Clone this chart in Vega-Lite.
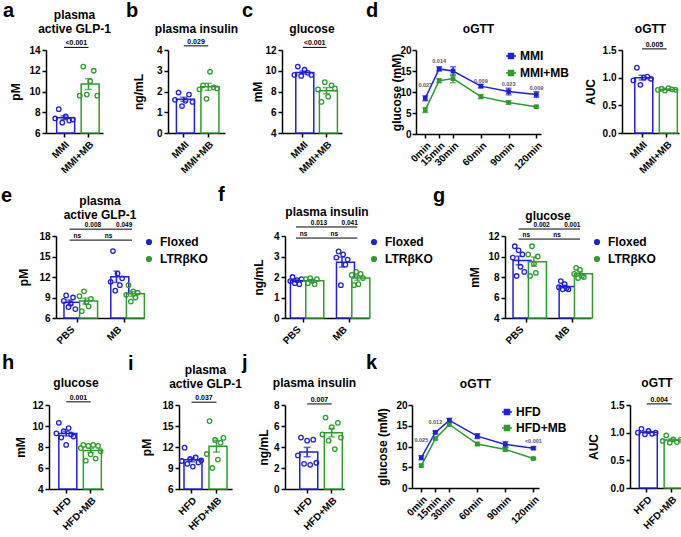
{
"$schema":"https://vega.github.io/schema/vega-lite/v6.json",
"padding":0,
"config":{
 "font":"Liberation Sans",
 "view":{"stroke":null},
 "axis":{"grid":false,"labelFont":"Liberation Sans","labelFontSize":10,"labelFontWeight":"bold","labelColor":"#000","titleFont":"Liberation Sans","titleFontSize":12,"titleFontWeight":"bold","titleColor":"#000","domainColor":"#000","domainWidth":1.5,"tickColor":"#000","tickWidth":1.5,"tickSize":4,"labelPadding":2,"labelFlush":false,"labelOverlap":false,"tickCount":20},
 "legend":{"labelFont":"Liberation Sans","labelColor":"#000"},
 "title":{"font":"Liberation Sans","color":"#000","fontWeight":"bold"}
},
"datasets":{
 "a":[{"g":"MMI","m":1,"v":7.4},{"g":"MMI","m":2,"v":8.3},{"g":"MMI","m":3,"v":7.0},{"g":"MMI","m":4,"v":7.6},{"g":"MMI","m":5,"v":7.2},{"g":"MMI","m":6,"v":7.3},{"g":"MMI+MB","m":1,"v":9.6},{"g":"MMI+MB","m":2,"v":12.4},{"g":"MMI+MB","m":3,"v":9.7},{"g":"MMI+MB","m":4,"v":11.0},{"g":"MMI+MB","m":5,"v":12.0},{"g":"MMI+MB","m":6,"v":9.6}],
 "b":[{"g":"MMI","m":1,"v":1.6},{"g":"MMI","m":2,"v":1.95},{"g":"MMI","m":3,"v":1.3},{"g":"MMI","m":4,"v":1.55},{"g":"MMI","m":5,"v":1.85},{"g":"MMI","m":6,"v":1.5},{"g":"MMI+MB","m":1,"v":2.1},{"g":"MMI+MB","m":2,"v":2.3},{"g":"MMI+MB","m":3,"v":1.65},{"g":"MMI+MB","m":4,"v":2.95},{"g":"MMI+MB","m":5,"v":2.2},{"g":"MMI+MB","m":6,"v":2.15}],
 "c":[{"g":"MMI","m":1,"v":9.6},{"g":"MMI","m":2,"v":10.4},{"g":"MMI","m":3,"v":9.5},{"g":"MMI","m":4,"v":10.1},{"g":"MMI","m":5,"v":9.8},{"g":"MMI","m":6,"v":9.6},{"g":"MMI+MB","m":1,"v":8.2},{"g":"MMI+MB","m":2,"v":7.0},{"g":"MMI+MB","m":3,"v":8.9},{"g":"MMI+MB","m":4,"v":7.5},{"g":"MMI+MB","m":5,"v":8.6},{"g":"MMI+MB","m":6,"v":8.3}],
 "dauc":[{"g":"MMI","m":1,"v":0.95},{"g":"MMI","m":2,"v":1.18},{"g":"MMI","m":3,"v":0.87},{"g":"MMI","m":4,"v":1.0},{"g":"MMI","m":5,"v":1.02},{"g":"MMI","m":6,"v":0.98},{"g":"MMI+MB","m":1,"v":0.78},{"g":"MMI+MB","m":2,"v":0.8},{"g":"MMI+MB","m":3,"v":0.77},{"g":"MMI+MB","m":4,"v":0.81},{"g":"MMI+MB","m":5,"v":0.79},{"g":"MMI+MB","m":6,"v":0.78}],
 "dl":[{"grp":"MMI","t":0,"mean":8.5,"sem":0.6},{"grp":"MMI","t":15,"mean":15.5,"sem":0.5},{"grp":"MMI","t":30,"mean":15.0,"sem":1.0},{"grp":"MMI","t":60,"mean":11.4,"sem":0.4},{"grp":"MMI","t":90,"mean":10.1,"sem":0.8},{"grp":"MMI","t":120,"mean":9.4,"sem":0.7},{"grp":"MMI+MB","t":0,"mean":5.7,"sem":0.6},{"grp":"MMI+MB","t":15,"mean":12.7,"sem":0.5},{"grp":"MMI+MB","t":30,"mean":13.2,"sem":1.0},{"grp":"MMI+MB","t":60,"mean":8.9,"sem":0.5},{"grp":"MMI+MB","t":90,"mean":7.5,"sem":0.4},{"grp":"MMI+MB","t":120,"mean":6.5,"sem":0.2}],
 "e":[{"c":"PBS|Floxed","k":"Floxed","m":1,"v":8.5},{"c":"PBS|Floxed","k":"Floxed","m":2,"v":9.3},{"c":"PBS|Floxed","k":"Floxed","m":3,"v":7.6},{"c":"PBS|Floxed","k":"Floxed","m":4,"v":8.1},{"c":"PBS|Floxed","k":"Floxed","m":5,"v":9.0},{"c":"PBS|Floxed","k":"Floxed","m":6,"v":7.3},
  {"c":"PBS|LTRβKO","k":"LTRβKO","m":1,"v":9.2},{"c":"PBS|LTRβKO","k":"LTRβKO","m":2,"v":7.0},{"c":"PBS|LTRβKO","k":"LTRβKO","m":3,"v":9.9},{"c":"PBS|LTRβKO","k":"LTRβKO","m":4,"v":8.3},{"c":"PBS|LTRβKO","k":"LTRβKO","m":5,"v":7.7},{"c":"PBS|LTRβKO","k":"LTRβKO","m":6,"v":8.8},
  {"c":"MB|Floxed","k":"Floxed","m":1,"v":11.3},{"c":"MB|Floxed","k":"Floxed","m":2,"v":15.8},{"c":"MB|Floxed","k":"Floxed","m":3,"v":10.0},{"c":"MB|Floxed","k":"Floxed","m":4,"v":12.5},{"c":"MB|Floxed","k":"Floxed","m":5,"v":10.8},{"c":"MB|Floxed","k":"Floxed","m":6,"v":11.8},
  {"c":"MB|LTRβKO","k":"LTRβKO","m":1,"v":9.4},{"c":"MB|LTRβKO","k":"LTRβKO","m":2,"v":10.8},{"c":"MB|LTRβKO","k":"LTRβKO","m":3,"v":8.4},{"c":"MB|LTRβKO","k":"LTRβKO","m":4,"v":9.9},{"c":"MB|LTRβKO","k":"LTRβKO","m":5,"v":9.0},{"c":"MB|LTRβKO","k":"LTRβKO","m":6,"v":9.7}],
 "f":[{"c":"PBS|Floxed","k":"Floxed","m":1,"v":1.8},{"c":"PBS|Floxed","k":"Floxed","m":2,"v":2.0},{"c":"PBS|Floxed","k":"Floxed","m":3,"v":1.7},{"c":"PBS|Floxed","k":"Floxed","m":4,"v":1.85},{"c":"PBS|Floxed","k":"Floxed","m":5,"v":1.65},{"c":"PBS|Floxed","k":"Floxed","m":6,"v":1.9},
  {"c":"PBS|LTRβKO","k":"LTRβKO","m":1,"v":1.9},{"c":"PBS|LTRβKO","k":"LTRβKO","m":2,"v":1.7},{"c":"PBS|LTRβKO","k":"LTRβKO","m":3,"v":1.95},{"c":"PBS|LTRβKO","k":"LTRβKO","m":4,"v":1.8},{"c":"PBS|LTRβKO","k":"LTRβKO","m":5,"v":1.65},{"c":"PBS|LTRβKO","k":"LTRβKO","m":6,"v":1.9},
  {"c":"MB|Floxed","k":"Floxed","m":1,"v":2.95},{"c":"MB|Floxed","k":"Floxed","m":2,"v":3.25},{"c":"MB|Floxed","k":"Floxed","m":3,"v":1.6},{"c":"MB|Floxed","k":"Floxed","m":4,"v":3.1},{"c":"MB|Floxed","k":"Floxed","m":5,"v":2.6},{"c":"MB|Floxed","k":"Floxed","m":6,"v":2.85},
  {"c":"MB|LTRβKO","k":"LTRβKO","m":1,"v":2.1},{"c":"MB|LTRβKO","k":"LTRβKO","m":2,"v":1.6},{"c":"MB|LTRβKO","k":"LTRβKO","m":3,"v":2.25},{"c":"MB|LTRβKO","k":"LTRβKO","m":4,"v":1.65},{"c":"MB|LTRβKO","k":"LTRβKO","m":5,"v":2.15},{"c":"MB|LTRβKO","k":"LTRβKO","m":6,"v":1.95}],
 "g":[{"c":"PBS|Floxed","k":"Floxed","m":1,"v":9.9},{"c":"PBS|Floxed","k":"Floxed","m":2,"v":11.0},{"c":"PBS|Floxed","k":"Floxed","m":3,"v":8.1},{"c":"PBS|Floxed","k":"Floxed","m":4,"v":10.6},{"c":"PBS|Floxed","k":"Floxed","m":5,"v":9.0},{"c":"PBS|Floxed","k":"Floxed","m":6,"v":10.2},{"c":"PBS|Floxed","k":"Floxed","m":7,"v":8.5},
  {"c":"PBS|LTRβKO","k":"LTRβKO","m":1,"v":10.2},{"c":"PBS|LTRβKO","k":"LTRβKO","m":2,"v":8.1},{"c":"PBS|LTRβKO","k":"LTRβKO","m":3,"v":11.0},{"c":"PBS|LTRβKO","k":"LTRβKO","m":4,"v":9.3},{"c":"PBS|LTRβKO","k":"LTRβKO","m":5,"v":8.4},{"c":"PBS|LTRβKO","k":"LTRβKO","m":6,"v":10.0},
  {"c":"MB|Floxed","k":"Floxed","m":1,"v":7.0},{"c":"MB|Floxed","k":"Floxed","m":2,"v":7.6},{"c":"MB|Floxed","k":"Floxed","m":3,"v":6.8},{"c":"MB|Floxed","k":"Floxed","m":4,"v":7.3},{"c":"MB|Floxed","k":"Floxed","m":5,"v":6.9},{"c":"MB|Floxed","k":"Floxed","m":6,"v":6.8},
  {"c":"MB|LTRβKO","k":"LTRβKO","m":1,"v":8.3},{"c":"MB|LTRβKO","k":"LTRβKO","m":2,"v":8.9},{"c":"MB|LTRβKO","k":"LTRβKO","m":3,"v":7.9},{"c":"MB|LTRβKO","k":"LTRβKO","m":4,"v":8.7},{"c":"MB|LTRβKO","k":"LTRβKO","m":5,"v":8.1},{"c":"MB|LTRβKO","k":"LTRβKO","m":6,"v":8.0}],
 "h":[{"g":"HFD","m":1,"v":9.3},{"g":"HFD","m":2,"v":10.3},{"g":"HFD","m":3,"v":8.9},{"g":"HFD","m":4,"v":9.5},{"g":"HFD","m":5,"v":8.2},{"g":"HFD","m":6,"v":9.8},{"g":"HFD","m":7,"v":9.2},{"g":"HFD","m":8,"v":9.0},{"g":"HFD+MB","m":1,"v":7.9},{"g":"HFD+MB","m":2,"v":8.2},{"g":"HFD+MB","m":3,"v":6.7},{"g":"HFD+MB","m":4,"v":8.1},{"g":"HFD+MB","m":5,"v":7.3},{"g":"HFD+MB","m":6,"v":8.2},{"g":"HFD+MB","m":7,"v":6.9},{"g":"HFD+MB","m":8,"v":8.1},{"g":"HFD+MB","m":9,"v":7.6}],
 "i":[{"g":"HFD","m":1,"v":10.0},{"g":"HFD","m":2,"v":11.9},{"g":"HFD","m":3,"v":9.6},{"g":"HFD","m":4,"v":10.3},{"g":"HFD","m":5,"v":9.2},{"g":"HFD","m":6,"v":10.5},{"g":"HFD","m":7,"v":9.8},{"g":"HFD","m":8,"v":10.1},{"g":"HFD+MB","m":1,"v":11.0},{"g":"HFD+MB","m":2,"v":15.7},{"g":"HFD+MB","m":3,"v":9.0},{"g":"HFD+MB","m":4,"v":13.0},{"g":"HFD+MB","m":5,"v":10.2},{"g":"HFD+MB","m":6,"v":12.6},{"g":"HFD+MB","m":7,"v":13.3}],
 "j":[{"g":"HFD","m":1,"v":3.2},{"g":"HFD","m":2,"v":4.9},{"g":"HFD","m":3,"v":2.4},{"g":"HFD","m":4,"v":4.6},{"g":"HFD","m":5,"v":2.3},{"g":"HFD","m":6,"v":4.7},{"g":"HFD","m":7,"v":2.5},{"g":"HFD+MB","m":1,"v":5.2},{"g":"HFD+MB","m":2,"v":6.8},{"g":"HFD+MB","m":3,"v":4.6},{"g":"HFD+MB","m":4,"v":5.9},{"g":"HFD+MB","m":5,"v":3.8},{"g":"HFD+MB","m":6,"v":6.3},{"g":"HFD+MB","m":7,"v":4.9}],
 "kl":[{"grp":"HFD","t":0,"mean":7.3,"sem":0.5},{"grp":"HFD","t":15,"mean":13.4,"sem":0.3},{"grp":"HFD","t":30,"mean":16.3,"sem":0.5},{"grp":"HFD","t":60,"mean":12.5,"sem":0.6},{"grp":"HFD","t":90,"mean":10.5,"sem":0.7},{"grp":"HFD","t":120,"mean":9.6,"sem":0.3},{"grp":"HFD+MB","t":0,"mean":5.4,"sem":0.3},{"grp":"HFD+MB","t":15,"mean":11.9,"sem":0.3},{"grp":"HFD+MB","t":30,"mean":15.3,"sem":0.4},{"grp":"HFD+MB","t":60,"mean":10.6,"sem":0.4},{"grp":"HFD+MB","t":90,"mean":9.3,"sem":0.5},{"grp":"HFD+MB","t":120,"mean":7.1,"sem":0.2}],
 "kauc":[{"g":"HFD","m":1,"v":1.0},{"g":"HFD","m":2,"v":1.07},{"g":"HFD","m":3,"v":0.97},{"g":"HFD","m":4,"v":1.03},{"g":"HFD","m":5,"v":0.98},{"g":"HFD","m":6,"v":1.0},{"g":"HFD+MB","m":1,"v":0.85},{"g":"HFD+MB","m":2,"v":0.95},{"g":"HFD+MB","m":3,"v":0.82},{"g":"HFD+MB","m":4,"v":0.88},{"g":"HFD+MB","m":5,"v":0.83},{"g":"HFD+MB","m":6,"v":0.87}],
 "none":[]
},
"resolve":{"scale":{"color":"independent","stroke":"independent","xOffset":"independent"}},
"spacing":7,
"vconcat":[
{"resolve":{"scale":{"color":"independent","stroke":"independent","xOffset":"independent"}},
 "spacing":10,
 "vconcat":[
 {"resolve":{"scale":{"color":"independent","stroke":"independent","xOffset":"independent"}},"spacing":2,
  "hconcat":[
  {"width":1,"height":1,"data":{"name":"none"},"mark":"point"},
  {"resolve":{"scale":{"color":"independent","stroke":"independent","xOffset":"independent"}},"spacing":24,
   "hconcat":[
   {"resolve":{"scale":{"color":"independent","stroke":"independent","xOffset":"independent"}},"spacing":3,
    "hconcat":[
    {"resolve":{"scale":{"color":"independent","stroke":"independent","xOffset":"independent"}},"spacing":15,
     "hconcat":[
     {"title":{"text":"a","anchor":"start","frame":"group","fontSize":20,"baseline":"alphabetic","offset":-28,"dx":-43},
      "hconcat":[
       {"width":57,"height":83,
        "title":{"text":["plasma","active GLP-1"],"frame":"group","anchor":"middle","offset":-9,"fontSize":12,"lineHeight":14,"baseline":"bottom"},
        "data":{"name":"a"},
        "layer":[
         {"mark":{"type":"bar","fill":"white","strokeWidth":1.5,"width":{"band":0.6}},
          "encoding":{"x":{"field":"g","type":"nominal","title":null,"scale":{"domain":["MMI","MMI+MB"],"paddingInner":0,"paddingOuter":0.163,"align":0.72},"axis":{"labelAngle":-45,"labelOverlap":false}},
           "y":{"aggregate":"mean","field":"v","type":"quantitative","stack":null,"scale":{"domain":[6,14],"nice":false},"axis":{"title":"pM","values":[6,8,10,12,14],"format":"d","tickCount":20,"labelOverlap":false,"titleX":-24,"titleY":41.5}},
           "stroke":{"field":"g","type":"nominal","scale":{"domain":["MMI","MMI+MB"],"range":["#1f1fe0","#2c9c2c"]},"legend":null}}},
         {"mark":{"type":"point","shape":"circle","filled":false,"size":20,"strokeWidth":1.3,"opacity":1},
          "encoding":{"x":{"field":"g","type":"nominal","title":null},"xOffset":{"field":"m","type":"nominal","scale":{"paddingInner":0,"paddingOuter":1.4}},"y":{"field":"v","type":"quantitative","title":"pM"},"stroke":{"field":"g","type":"nominal","legend":null}}},
         {"mark":{"type":"errorbar","extent":"stderr","thickness":1.5,"ticks":{"size":7}},
          "encoding":{"x":{"field":"g","type":"nominal","title":null},"y":{"field":"v","type":"quantitative","title":"pM"},"color":{"field":"g","type":"nominal","scale":{"domain":["MMI","MMI+MB"],"range":["#1f1fe0","#2c9c2c"]},"legend":null}}},
         {"data":{"values":[{"g":"MMI","v":14.25},{"g":"MMI+MB","v":14.25}]},"mark":{"type":"line","color":"#000","strokeWidth":1},
          "encoding":{"x":{"field":"g","type":"nominal","title":null},"y":{"field":"v","type":"quantitative","title":"pM"}}},
         {"data":{"values":[{"g":"MMI","v":14.25,"t":"<0.001"}]},"mark":{"type":"text","baseline":"bottom","dy":-1,"fontSize":7,"fontWeight":"bold"},
          "encoding":{"x":{"field":"g","type":"nominal","title":null,"bandPosition":1},"y":{"field":"v","type":"quantitative","title":"pM"},"text":{"field":"t"}}}
        ]}
      ]},
     {"title":{"text":"b","anchor":"start","frame":"group","fontSize":20,"baseline":"alphabetic","offset":-28,"dx":-42},
      "hconcat":[
       {"width":57,"height":83,
        "title":{"text":["","plasma insulin"],"frame":"group","anchor":"middle","offset":-10,"fontSize":12,"lineHeight":14,"baseline":"bottom"},
        "data":{"name":"b"},
        "layer":[
         {"mark":{"type":"bar","fill":"white","strokeWidth":1.5,"width":{"band":0.6}},
          "encoding":{"x":{"field":"g","type":"nominal","title":null,"scale":{"domain":["MMI","MMI+MB"],"paddingInner":0,"paddingOuter":0.163,"align":0.44},"axis":{"labelAngle":-45,"labelOverlap":false}},
           "y":{"aggregate":"mean","field":"v","type":"quantitative","stack":null,"scale":{"domain":[0,4],"nice":false},"axis":{"title":"ng/mL","values":[0,1,2,3,4],"format":"d","tickCount":20,"labelOverlap":false,"titleX":-23,"titleY":41.5}},
           "stroke":{"field":"g","type":"nominal","scale":{"domain":["MMI","MMI+MB"],"range":["#1f1fe0","#2c9c2c"]},"legend":null}}},
         {"mark":{"type":"point","shape":"circle","filled":false,"size":20,"strokeWidth":1.3,"opacity":1},
          "encoding":{"x":{"field":"g","type":"nominal","title":null},"xOffset":{"field":"m","type":"nominal","scale":{"paddingInner":0,"paddingOuter":1.4}},"y":{"field":"v","type":"quantitative","title":"ng/mL"},"stroke":{"field":"g","type":"nominal","legend":null}}},
         {"mark":{"type":"errorbar","extent":"stderr","thickness":1.5,"ticks":{"size":7}},
          "encoding":{"x":{"field":"g","type":"nominal","title":null},"y":{"field":"v","type":"quantitative","title":"ng/mL"},"color":{"field":"g","type":"nominal","scale":{"domain":["MMI","MMI+MB"],"range":["#1f1fe0","#2c9c2c"]},"legend":null}}},
         {"data":{"values":[{"g":"MMI","v":4.2},{"g":"MMI+MB","v":4.2}]},"mark":{"type":"line","color":"#000","strokeWidth":1},
          "encoding":{"x":{"field":"g","type":"nominal","title":null},"y":{"field":"v","type":"quantitative","title":"ng/mL"}}},
         {"data":{"values":[{"g":"MMI","v":4.2,"t":"0.029"}]},"mark":{"type":"text","baseline":"bottom","dy":-1,"fontSize":7,"fontWeight":"bold"},
          "encoding":{"x":{"field":"g","type":"nominal","title":null,"bandPosition":1},"y":{"field":"v","type":"quantitative","title":"ng/mL"},"text":{"field":"t"}}}
        ]}
      ]}
    ]},
    {"title":{"text":"c","anchor":"start","frame":"group","fontSize":20,"baseline":"alphabetic","offset":-28,"dx":-40},
     "hconcat":[
      {"width":60,"height":83,
       "title":{"text":["","glucose"],"frame":"group","anchor":"middle","offset":-9,"fontSize":12,"lineHeight":14,"baseline":"bottom"},
       "data":{"name":"c"},
       "layer":[
        {"mark":{"type":"bar","fill":"white","strokeWidth":1.5,"width":{"band":0.6}},
         "encoding":{"x":{"field":"g","type":"nominal","title":null,"scale":{"domain":["MMI","MMI+MB"],"paddingInner":0,"paddingOuter":0.27,"align":0.71},"axis":{"labelAngle":-45,"labelOverlap":false}},
          "y":{"aggregate":"mean","field":"v","type":"quantitative","stack":null,"scale":{"domain":[4,12],"nice":false},"axis":{"title":"mM","values":[4,6,8,10,12],"format":"d","tickCount":20,"labelOverlap":false,"titleX":-18,"titleY":41.5}},
          "stroke":{"field":"g","type":"nominal","scale":{"domain":["MMI","MMI+MB"],"range":["#1f1fe0","#2c9c2c"]},"legend":null}}},
        {"mark":{"type":"point","shape":"circle","filled":false,"size":20,"strokeWidth":1.3,"opacity":1},
         "encoding":{"x":{"field":"g","type":"nominal","title":null},"xOffset":{"field":"m","type":"nominal","scale":{"paddingInner":0,"paddingOuter":1.4}},"y":{"field":"v","type":"quantitative","title":"mM"},"stroke":{"field":"g","type":"nominal","legend":null}}},
        {"mark":{"type":"errorbar","extent":"stderr","thickness":1.5,"ticks":{"size":7}},
         "encoding":{"x":{"field":"g","type":"nominal","title":null},"y":{"field":"v","type":"quantitative","title":"mM"},"color":{"field":"g","type":"nominal","scale":{"domain":["MMI","MMI+MB"],"range":["#1f1fe0","#2c9c2c"]},"legend":null}}},
        {"data":{"values":[{"g":"MMI","v":12.25},{"g":"MMI+MB","v":12.25}]},"mark":{"type":"line","color":"#000","strokeWidth":1},
         "encoding":{"x":{"field":"g","type":"nominal","title":null},"y":{"field":"v","type":"quantitative","title":"mM"}}},
        {"data":{"values":[{"g":"MMI","v":12.25,"t":"<0.001"}]},"mark":{"type":"text","baseline":"bottom","dy":-1,"fontSize":7,"fontWeight":"bold"},
         "encoding":{"x":{"field":"g","type":"nominal","title":null,"bandPosition":1},"y":{"field":"v","type":"quantitative","title":"mM"},"text":{"field":"t"}}}
       ]}
     ]}
   ]},
   {"title":{"text":"d","anchor":"start","frame":"group","fontSize":20,"baseline":"alphabetic","offset":-28,"dx":-50},
    "resolve":{"scale":{"color":"independent","stroke":"independent","xOffset":"independent"}},
    "spacing":15,
    "hconcat":[
     {"width":125,"height":84,
      "title":{"text":["","oGTT"],"frame":"group","anchor":"middle","offset":-3,"fontSize":12,"lineHeight":14,"baseline":"bottom"},
      "data":{"name":"dl"},
      "layer":[
       {"mark":{"type":"point","shape":"square","filled":true,"size":22,"opacity":1},
        "encoding":{"x":{"field":"t","type":"quantitative","title":null,"scale":{"domain":[-10,125],"nice":false,"zero":false},"axis":{"values":[0,15,30,60,90,120],"tickCount":20,"labelExpr":"datum.value + 'min'","labelAngle":-45,"labelOverlap":false}},
         "y":{"field":"mean","type":"quantitative","scale":{"domain":[0,20],"nice":false},"axis":{"title":"glucose (mM)","values":[0,5,10,15,20],"format":"d","tickCount":20,"labelOverlap":false,"labelPadding":1,"titleX":-13,"titleY":42}},
         "color":{"field":"grp","type":"nominal","scale":{"domain":["MMI","MMI+MB"],"range":["#1f1fe0","#2c9c2c"]},"legend":{"title":null,"orient":"none","legendX":89,"legendY":0,"padding":0,"symbolType":"M-1,0L1,0M-0.5,-0.5L0.5,-0.5L0.5,0.5L-0.5,0.5Z","symbolSize":100,"symbolStrokeWidth":1.5,"labelFontSize":12,"labelFontWeight":"bold","rowPadding":5,"labelOffset":3}}}},
       {"mark":{"type":"line","strokeWidth":1.5},
        "encoding":{"x":{"field":"t","type":"quantitative","title":null},"y":{"field":"mean","type":"quantitative","title":"glucose (mM)"},"color":{"field":"grp","type":"nominal"}}},
       {"mark":{"type":"errorbar","thickness":1.3,"ticks":{"size":6}},
        "encoding":{"x":{"field":"t","type":"quantitative","title":null},"y":{"field":"mean","type":"quantitative","title":"glucose (mM)"},"yError":{"field":"sem"},"color":{"field":"grp","type":"nominal"}}},
       {"data":{"values":[{"t":0,"mean":11.7,"p":"0.027"},{"t":15,"mean":17.3,"p":"0.014"},{"t":60,"mean":12.6,"p":"0.009"},{"t":90,"mean":11.8,"p":"0.023"},{"t":120,"mean":10.9,"p":"0.009"}]},
        "mark":{"type":"text","fontSize":5.5,"fontWeight":"bold","color":"#555"},
        "encoding":{"x":{"field":"t","type":"quantitative","title":null},"y":{"field":"mean","type":"quantitative","title":"glucose (mM)"},"text":{"field":"p"}}}
      ]},
     {"width":57,"height":83,
      "title":{"text":["","oGTT"],"frame":"group","anchor":"middle","offset":-7,"fontSize":12,"lineHeight":14,"baseline":"bottom"},
      "data":{"name":"dauc"},
      "layer":[
       {"mark":{"type":"bar","fill":"white","strokeWidth":1.5,"width":{"band":0.6}},
        "encoding":{"x":{"field":"g","type":"nominal","title":null,"scale":{"domain":["MMI","MMI+MB"],"paddingInner":0,"paddingOuter":0.16,"align":1},"axis":{"labelAngle":-45,"labelOverlap":false}},
         "y":{"aggregate":"mean","field":"v","type":"quantitative","stack":null,"scale":{"domain":[0,1.5],"nice":false},"axis":{"title":"AUC","values":[0,0.5,1,1.5],"tickCount":20,"format":".1f","labelOverlap":false,"titleX":-25,"titleY":41.5}},
         "stroke":{"field":"g","type":"nominal","scale":{"domain":["MMI","MMI+MB"],"range":["#1f1fe0","#2c9c2c"]},"legend":null}}},
       {"mark":{"type":"point","shape":"circle","filled":false,"size":20,"strokeWidth":1.3,"opacity":1},
        "encoding":{"x":{"field":"g","type":"nominal","title":null},"xOffset":{"field":"m","type":"nominal","scale":{"paddingInner":0,"paddingOuter":1.4}},"y":{"field":"v","type":"quantitative","title":"AUC"},"stroke":{"field":"g","type":"nominal","legend":null}}},
       {"mark":{"type":"errorbar","extent":"stderr","thickness":1.5,"ticks":{"size":7}},
        "encoding":{"x":{"field":"g","type":"nominal","title":null},"y":{"field":"v","type":"quantitative","title":"AUC"},"color":{"field":"g","type":"nominal","scale":{"domain":["MMI","MMI+MB"],"range":["#1f1fe0","#2c9c2c"]},"legend":null}}},
       {"data":{"values":[{"g":"MMI","v":1.52},{"g":"MMI+MB","v":1.52}]},"mark":{"type":"line","color":"#000","strokeWidth":1},
        "encoding":{"x":{"field":"g","type":"nominal","title":null},"y":{"field":"v","type":"quantitative","title":"AUC"}}},
       {"data":{"values":[{"g":"MMI","v":1.52,"t":"0.005"}]},"mark":{"type":"text","baseline":"bottom","dy":-1,"fontSize":7,"fontWeight":"bold"},
        "encoding":{"x":{"field":"g","type":"nominal","title":null,"bandPosition":1},"y":{"field":"v","type":"quantitative","title":"AUC"},"text":{"field":"t"}}}
      ]}
    ]}
  ]}
 ]},
 {"resolve":{"scale":{"color":"independent","stroke":"independent","xOffset":"independent"}},"spacing":0,
  "hconcat":[
  {"width":1,"height":1,"data":{"name":"none"},"mark":"point"},
  {"resolve":{"scale":{"color":"independent","stroke":"independent","xOffset":"independent"}},"spacing":0,
   "hconcat":[
   {"resolve":{"scale":{"color":"independent","stroke":"independent","xOffset":"independent"}},"spacing":10,
    "hconcat":[
    {"title":{"text":"e","anchor":"start","frame":"group","fontSize":20,"baseline":"alphabetic","offset":-26.5,"dx":-55},
     "hconcat":[
      {"width":88,"height":82,
       "title":{"text":["plasma","active GLP-1"],"frame":"group","anchor":"middle","offset":-12,"fontSize":12,"lineHeight":14,"baseline":"bottom"},
       "data":{"name":"e"},
       "layer":[
        {"mark":{"type":"bar","fill":"white","strokeWidth":1.5,"width":{"band":0.72}},
         "encoding":{"x":{"field":"c","type":"nominal","title":null,"scale":{"domain":["PBS|Floxed","PBS|LTRβKO","gap","MB|Floxed","MB|LTRβKO"],"paddingInner":0,"paddingOuter":0.32,"align":0.58},"axis":{"labelAngle":-45,"labelOverlap":false,"values":["PBS|Floxed","MB|Floxed"],"bandPosition":1,"labelExpr":"split(datum.value,'|')[0]"}},
          "y":{"aggregate":"mean","field":"v","type":"quantitative","stack":null,"scale":{"domain":[6,18],"nice":false},"axis":{"title":"pM","values":[6,9,12,15,18],"format":"d","tickCount":20,"labelOverlap":false,"titleX":-26,"titleY":41}},
          "stroke":{"field":"k","type":"nominal","scale":{"domain":["Floxed","LTRβKO"],"range":["#1f1fe0","#2c9c2c"]},"legend":{"title":null,"orient":"right","offset":-3,"padding":0,"symbolType":"circle","symbolSize":22,"symbolStrokeWidth":1.5,"labelFontSize":12,"labelFontWeight":"bold","rowPadding":5,"labelOffset":5}}}},
        {"mark":{"type":"point","shape":"circle","filled":false,"size":20,"strokeWidth":1.3,"opacity":1},
         "encoding":{"x":{"field":"c","type":"nominal","title":null},"xOffset":{"field":"m","type":"nominal","scale":{"paddingInner":0,"paddingOuter":0.9}},"y":{"field":"v","type":"quantitative","title":"pM"},"stroke":{"field":"k","type":"nominal","legend":{"title":null,"orient":"right","offset":-3,"padding":0,"symbolType":"circle","symbolSize":22,"symbolStrokeWidth":1.5,"labelFontSize":12,"labelFontWeight":"bold","rowPadding":5,"labelOffset":5}}}},
        {"mark":{"type":"errorbar","extent":"stderr","thickness":1.5,"ticks":{"size":6}},
         "encoding":{"x":{"field":"c","type":"nominal","title":null},"y":{"field":"v","type":"quantitative","title":"pM"},"color":{"field":"k","type":"nominal","scale":{"domain":["Floxed","LTRβKO"],"range":["#1f1fe0","#2c9c2c"]},"legend":null}}},
        {"data":{"values":[{"id":1,"c":"PBS|Floxed","v":17.4},{"id":1,"c":"PBS|LTRβKO","v":17.4},{"id":2,"c":"PBS|LTRβKO","v":17.4},{"id":2,"c":"MB|LTRβKO","v":17.4},{"id":3,"c":"PBS|Floxed","v":19.0},{"id":3,"c":"MB|Floxed","v":19.0},{"id":4,"c":"MB|Floxed","v":19.0},{"id":4,"c":"MB|LTRβKO","v":19.0}]},
         "mark":{"type":"line","color":"#000","strokeWidth":1},
         "encoding":{"x":{"field":"c","type":"nominal","title":null},"y":{"field":"v","type":"quantitative","title":"pM"},"detail":{"field":"id","type":"nominal"}}},
        {"data":{"values":[{"c":"PBS|Floxed","v":17.4,"t":"ns"},{"c":"gap","v":17.4,"t":"ns"},{"c":"PBS|LTRβKO","v":19.0,"t":"0.008"},{"c":"MB|Floxed","v":19.0,"t":"0.049"}]},
         "mark":{"type":"text","baseline":"bottom","dy":-1,"fontSize":6.5,"fontWeight":"bold"},
         "encoding":{"x":{"field":"c","type":"nominal","title":null,"bandPosition":1},"y":{"field":"v","type":"quantitative","title":"pM"},"text":{"field":"t"}}}
       ]}
     ]},
    {"title":{"text":"f","anchor":"start","frame":"group","fontSize":20,"baseline":"alphabetic","offset":-29,"dx":-67},
     "hconcat":[
      {"width":84,"height":82,
       "title":{"text":["","plasma insulin"],"frame":"group","anchor":"middle","offset":-11.5,"fontSize":12,"lineHeight":14,"baseline":"bottom"},
       "data":{"name":"f"},
       "layer":[
        {"mark":{"type":"bar","fill":"white","strokeWidth":1.5,"width":{"band":0.72}},
         "encoding":{"x":{"field":"c","type":"nominal","title":null,"scale":{"domain":["PBS|Floxed","PBS|LTRβKO","gap","MB|Floxed","MB|LTRβKO"],"paddingInner":0,"paddingOuter":0.235,"align":0.45},"axis":{"labelAngle":-45,"labelOverlap":false,"values":["PBS|Floxed","MB|Floxed"],"bandPosition":1,"labelExpr":"split(datum.value,'|')[0]"}},
          "y":{"aggregate":"mean","field":"v","type":"quantitative","stack":null,"scale":{"domain":[0,4],"nice":false},"axis":{"title":"ng/mL","values":[0,1,2,3,4],"format":"d","tickCount":20,"labelOverlap":false,"titleX":-20,"titleY":41}},
          "stroke":{"field":"k","type":"nominal","scale":{"domain":["Floxed","LTRβKO"],"range":["#1f1fe0","#2c9c2c"]},"legend":{"title":null,"orient":"right","offset":-3,"padding":0,"symbolType":"circle","symbolSize":22,"symbolStrokeWidth":1.5,"labelFontSize":12,"labelFontWeight":"bold","rowPadding":5,"labelOffset":5}}}},
        {"mark":{"type":"point","shape":"circle","filled":false,"size":20,"strokeWidth":1.3,"opacity":1},
         "encoding":{"x":{"field":"c","type":"nominal","title":null},"xOffset":{"field":"m","type":"nominal","scale":{"paddingInner":0,"paddingOuter":0.9}},"y":{"field":"v","type":"quantitative","title":"ng/mL"},"stroke":{"field":"k","type":"nominal","legend":{"title":null,"orient":"right","offset":-3,"padding":0,"symbolType":"circle","symbolSize":22,"symbolStrokeWidth":1.5,"labelFontSize":12,"labelFontWeight":"bold","rowPadding":5,"labelOffset":5}}}},
        {"mark":{"type":"errorbar","extent":"stderr","thickness":1.5,"ticks":{"size":6}},
         "encoding":{"x":{"field":"c","type":"nominal","title":null},"y":{"field":"v","type":"quantitative","title":"ng/mL"},"color":{"field":"k","type":"nominal","scale":{"domain":["Floxed","LTRβKO"],"range":["#1f1fe0","#2c9c2c"]},"legend":null}}},
        {"data":{"values":[{"id":1,"c":"PBS|Floxed","v":3.9},{"id":1,"c":"PBS|LTRβKO","v":3.9},{"id":2,"c":"PBS|LTRβKO","v":3.9},{"id":2,"c":"MB|LTRβKO","v":3.9},{"id":3,"c":"PBS|Floxed","v":4.44},{"id":3,"c":"MB|Floxed","v":4.44},{"id":4,"c":"MB|Floxed","v":4.44},{"id":4,"c":"MB|LTRβKO","v":4.44}]},
         "mark":{"type":"line","color":"#000","strokeWidth":1},
         "encoding":{"x":{"field":"c","type":"nominal","title":null},"y":{"field":"v","type":"quantitative","title":"ng/mL"},"detail":{"field":"id","type":"nominal"}}},
        {"data":{"values":[{"c":"PBS|Floxed","v":3.9,"t":"ns"},{"c":"gap","v":3.9,"t":"ns"},{"c":"PBS|LTRβKO","v":4.44,"t":"0.013"},{"c":"MB|Floxed","v":4.44,"t":"0.041"}]},
         "mark":{"type":"text","baseline":"bottom","dy":-1,"fontSize":6.5,"fontWeight":"bold"},
         "encoding":{"x":{"field":"c","type":"nominal","title":null,"bandPosition":1},"y":{"field":"v","type":"quantitative","title":"ng/mL"},"text":{"field":"t"}}}
       ]}
     ]}
   ]},
   {"title":{"text":"g","anchor":"start","frame":"group","fontSize":20,"baseline":"alphabetic","offset":-26.5,"dx":-72},
    "hconcat":[
     {"width":86,"height":82,
      "title":{"text":["","glucose"],"frame":"group","anchor":"middle","offset":-12.5,"fontSize":12,"lineHeight":14,"baseline":"bottom"},
      "data":{"name":"g"},
      "layer":[
       {"mark":{"type":"bar","fill":"white","strokeWidth":1.5,"width":{"band":0.72}},
        "encoding":{"x":{"field":"c","type":"nominal","title":null,"scale":{"domain":["PBS|Floxed","PBS|LTRβKO","gap","MB|Floxed","MB|LTRβKO"],"paddingInner":0,"paddingOuter":0.3,"align":0.64},"axis":{"labelAngle":-45,"labelOverlap":false,"values":["PBS|Floxed","MB|Floxed"],"bandPosition":1,"labelExpr":"split(datum.value,'|')[0]"}},
         "y":{"aggregate":"mean","field":"v","type":"quantitative","stack":null,"scale":{"domain":[4,12],"nice":false},"axis":{"title":"mM","values":[4,6,8,10,12],"format":"d","tickCount":20,"labelOverlap":false,"titleX":-24,"titleY":41}},
         "stroke":{"field":"k","type":"nominal","scale":{"domain":["Floxed","LTRβKO"],"range":["#1f1fe0","#2c9c2c"]},"legend":{"title":null,"orient":"right","offset":-3,"padding":0,"symbolType":"circle","symbolSize":22,"symbolStrokeWidth":1.5,"labelFontSize":12,"labelFontWeight":"bold","rowPadding":5,"labelOffset":5}}}},
       {"mark":{"type":"point","shape":"circle","filled":false,"size":20,"strokeWidth":1.3,"opacity":1},
        "encoding":{"x":{"field":"c","type":"nominal","title":null},"xOffset":{"field":"m","type":"nominal","scale":{"paddingInner":0,"paddingOuter":1.15}},"y":{"field":"v","type":"quantitative","title":"mM"},"stroke":{"field":"k","type":"nominal","legend":{"title":null,"orient":"right","offset":-3,"padding":0,"symbolType":"circle","symbolSize":22,"symbolStrokeWidth":1.5,"labelFontSize":12,"labelFontWeight":"bold","rowPadding":5,"labelOffset":5}}}},
       {"mark":{"type":"errorbar","extent":"stderr","thickness":1.5,"ticks":{"size":6}},
        "encoding":{"x":{"field":"c","type":"nominal","title":null},"y":{"field":"v","type":"quantitative","title":"mM"},"color":{"field":"k","type":"nominal","scale":{"domain":["Floxed","LTRβKO"],"range":["#1f1fe0","#2c9c2c"]},"legend":null}}},
       {"data":{"values":[{"id":1,"c":"PBS|Floxed","v":11.7},{"id":1,"c":"PBS|LTRβKO","v":11.7},{"id":2,"c":"PBS|LTRβKO","v":11.7},{"id":2,"c":"MB|LTRβKO","v":11.7},{"id":3,"c":"PBS|Floxed","v":12.68},{"id":3,"c":"MB|Floxed","v":12.68},{"id":4,"c":"MB|Floxed","v":12.68},{"id":4,"c":"MB|LTRβKO","v":12.68}]},
        "mark":{"type":"line","color":"#000","strokeWidth":1},
        "encoding":{"x":{"field":"c","type":"nominal","title":null},"y":{"field":"v","type":"quantitative","title":"mM"},"detail":{"field":"id","type":"nominal"}}},
       {"data":{"values":[{"c":"PBS|Floxed","v":11.7,"t":"ns"},{"c":"gap","v":11.7,"t":"ns"},{"c":"PBS|LTRβKO","v":12.68,"t":"0.002"},{"c":"MB|Floxed","v":12.68,"t":"0.001"}]},
        "mark":{"type":"text","baseline":"bottom","dy":-1,"fontSize":6.5,"fontWeight":"bold"},
        "encoding":{"x":{"field":"c","type":"nominal","title":null,"bandPosition":1},"y":{"field":"v","type":"quantitative","title":"mM"},"text":{"field":"t"}}}
      ]}
    ]}
  ]}
 ]}
]},
{"resolve":{"scale":{"color":"independent","stroke":"independent","xOffset":"independent"}},"spacing":1,
 "hconcat":[
 {"width":1,"height":1,"data":{"name":"none"},"mark":"point"},
 {"resolve":{"scale":{"color":"independent","stroke":"independent","xOffset":"independent"}},"spacing":9,
  "hconcat":[
  {"resolve":{"scale":{"color":"independent","stroke":"independent","xOffset":"independent"}},"spacing":0,
   "hconcat":[
   {"resolve":{"scale":{"color":"independent","stroke":"independent","xOffset":"independent"}},"spacing":22,
    "hconcat":[
    {"title":{"text":"h","anchor":"start","frame":"group","fontSize":20,"baseline":"alphabetic","offset":-26,"dx":-47},
     "hconcat":[
      {"width":54,"height":84,
       "title":{"text":["","glucose"],"frame":"group","anchor":"middle","offset":-8.5,"fontSize":12,"lineHeight":14,"baseline":"bottom"},
       "data":{"name":"h"},
       "layer":[
        {"mark":{"type":"bar","fill":"white","strokeWidth":1.5,"width":{"band":0.6}},
         "encoding":{"x":{"field":"g","type":"nominal","title":null,"scale":{"domain":["HFD","HFD+MB"],"paddingInner":0,"paddingOuter":0.1,"align":1},"axis":{"labelAngle":-45,"labelOverlap":false}},
          "y":{"aggregate":"mean","field":"v","type":"quantitative","stack":null,"scale":{"domain":[4,12],"nice":false},"axis":{"title":"mM","values":[4,6,8,10,12],"format":"d","tickCount":20,"labelOverlap":false,"titleX":-22,"titleY":42}},
          "stroke":{"field":"g","type":"nominal","scale":{"domain":["HFD","HFD+MB"],"range":["#1f1fe0","#2c9c2c"]},"legend":null}}},
        {"mark":{"type":"point","shape":"circle","filled":false,"size":20,"strokeWidth":1.3,"opacity":1},
         "encoding":{"x":{"field":"g","type":"nominal","title":null},"xOffset":{"field":"m","type":"nominal","scale":{"paddingInner":0,"paddingOuter":2.5}},"y":{"field":"v","type":"quantitative","title":"mM"},"stroke":{"field":"g","type":"nominal","legend":null}}},
        {"mark":{"type":"errorbar","extent":"stderr","thickness":1.5,"ticks":{"size":7}},
         "encoding":{"x":{"field":"g","type":"nominal","title":null},"y":{"field":"v","type":"quantitative","title":"mM"},"color":{"field":"g","type":"nominal","scale":{"domain":["HFD","HFD+MB"],"range":["#1f1fe0","#2c9c2c"]},"legend":null}}},
        {"data":{"values":[{"g":"HFD","v":12.3},{"g":"HFD+MB","v":12.3}]},"mark":{"type":"line","color":"#000","strokeWidth":1},
         "encoding":{"x":{"field":"g","type":"nominal","title":null},"y":{"field":"v","type":"quantitative","title":"mM"}}},
        {"data":{"values":[{"g":"HFD","v":12.3,"t":"0.001"}]},"mark":{"type":"text","baseline":"bottom","dy":-1,"fontSize":7,"fontWeight":"bold"},
         "encoding":{"x":{"field":"g","type":"nominal","title":null,"bandPosition":1},"y":{"field":"v","type":"quantitative","title":"mM"},"text":{"field":"t"}}}
       ]}
     ]},
    {"title":{"text":"i","anchor":"start","frame":"group","fontSize":20,"baseline":"alphabetic","offset":-26,"dx":-51},
     "hconcat":[
      {"width":53,"height":84,
       "title":{"text":["plasma","active GLP-1"],"frame":"group","anchor":"middle","offset":-8.5,"fontSize":12,"lineHeight":14,"baseline":"bottom"},
       "data":{"name":"i"},
       "layer":[
        {"mark":{"type":"bar","fill":"white","strokeWidth":1.5,"width":{"band":0.6}},
         "encoding":{"x":{"field":"g","type":"nominal","title":null,"scale":{"domain":["HFD","HFD+MB"],"paddingInner":0,"paddingOuter":0.06,"align":0},"axis":{"labelAngle":-45,"labelOverlap":false}},
          "y":{"aggregate":"mean","field":"v","type":"quantitative","stack":null,"scale":{"domain":[6,18],"nice":false},"axis":{"title":"pM","values":[6,9,12,15,18],"format":"d","tickCount":20,"labelOverlap":false,"titleX":-26,"titleY":42}},
          "stroke":{"field":"g","type":"nominal","scale":{"domain":["HFD","HFD+MB"],"range":["#1f1fe0","#2c9c2c"]},"legend":null}}},
        {"mark":{"type":"point","shape":"circle","filled":false,"size":20,"strokeWidth":1.3,"opacity":1},
         "encoding":{"x":{"field":"g","type":"nominal","title":null},"xOffset":{"field":"m","type":"nominal","scale":{"paddingInner":0,"paddingOuter":2.1}},"y":{"field":"v","type":"quantitative","title":"pM"},"stroke":{"field":"g","type":"nominal","legend":null}}},
        {"mark":{"type":"errorbar","extent":"stderr","thickness":1.5,"ticks":{"size":7}},
         "encoding":{"x":{"field":"g","type":"nominal","title":null},"y":{"field":"v","type":"quantitative","title":"pM"},"color":{"field":"g","type":"nominal","scale":{"domain":["HFD","HFD+MB"],"range":["#1f1fe0","#2c9c2c"]},"legend":null}}},
        {"data":{"values":[{"g":"HFD","v":18.4},{"g":"HFD+MB","v":18.4}]},"mark":{"type":"line","color":"#000","strokeWidth":1},
         "encoding":{"x":{"field":"g","type":"nominal","title":null},"y":{"field":"v","type":"quantitative","title":"pM"}}},
        {"data":{"values":[{"g":"HFD","v":18.4,"t":"0.037"}]},"mark":{"type":"text","baseline":"bottom","dy":-1,"fontSize":7,"fontWeight":"bold"},
         "encoding":{"x":{"field":"g","type":"nominal","title":null,"bandPosition":1},"y":{"field":"v","type":"quantitative","title":"pM"},"text":{"field":"t"}}}
       ]}
     ]}
   ]},
   {"title":{"text":"j","anchor":"start","frame":"group","fontSize":20,"baseline":"alphabetic","offset":-26,"dx":-43},
    "hconcat":[
     {"width":59,"height":84,
      "title":{"text":["","plasma insulin"],"frame":"group","anchor":"middle","offset":-6.5,"fontSize":12,"lineHeight":14,"baseline":"bottom"},
      "data":{"name":"j"},
      "layer":[
       {"mark":{"type":"bar","fill":"white","strokeWidth":1.5,"width":{"band":0.6}},
        "encoding":{"x":{"field":"g","type":"nominal","title":null,"scale":{"domain":["HFD","HFD+MB"],"paddingInner":0,"paddingOuter":0.2,"align":1},"axis":{"labelAngle":-45,"labelOverlap":false}},
         "y":{"aggregate":"mean","field":"v","type":"quantitative","stack":null,"scale":{"domain":[0,8],"nice":false},"axis":{"title":"ng/mL","values":[0,2,4,6,8],"format":"d","tickCount":20,"labelOverlap":false,"titleX":-15,"titleY":42}},
         "stroke":{"field":"g","type":"nominal","scale":{"domain":["HFD","HFD+MB"],"range":["#1f1fe0","#2c9c2c"]},"legend":null}}},
       {"mark":{"type":"point","shape":"circle","filled":false,"size":20,"strokeWidth":1.3,"opacity":1},
        "encoding":{"x":{"field":"g","type":"nominal","title":null},"xOffset":{"field":"m","type":"nominal","scale":{"paddingInner":0,"paddingOuter":1.75}},"y":{"field":"v","type":"quantitative","title":"ng/mL"},"stroke":{"field":"g","type":"nominal","legend":null}}},
       {"mark":{"type":"errorbar","extent":"stderr","thickness":1.5,"ticks":{"size":7}},
        "encoding":{"x":{"field":"g","type":"nominal","title":null},"y":{"field":"v","type":"quantitative","title":"ng/mL"},"color":{"field":"g","type":"nominal","scale":{"domain":["HFD","HFD+MB"],"range":["#1f1fe0","#2c9c2c"]},"legend":null}}},
       {"data":{"values":[{"g":"HFD","v":8.1},{"g":"HFD+MB","v":8.1}]},"mark":{"type":"line","color":"#000","strokeWidth":1},
        "encoding":{"x":{"field":"g","type":"nominal","title":null},"y":{"field":"v","type":"quantitative","title":"ng/mL"}}},
       {"data":{"values":[{"g":"HFD","v":8.1,"t":"0.007"}]},"mark":{"type":"text","baseline":"bottom","dy":-1,"fontSize":7,"fontWeight":"bold"},
        "encoding":{"x":{"field":"g","type":"nominal","title":null,"bandPosition":1},"y":{"field":"v","type":"quantitative","title":"ng/mL"},"text":{"field":"t"}}}
      ]}
    ]}
  ]},
  {"title":{"text":"k","anchor":"start","frame":"group","fontSize":20,"baseline":"alphabetic","offset":-26,"dx":-46},
   "resolve":{"scale":{"color":"independent","stroke":"independent","xOffset":"independent"}},
   "spacing":20,
   "hconcat":[
    {"width":127,"height":83,
     "title":{"text":["","oGTT"],"frame":"group","anchor":"middle","offset":-2.5,"fontSize":12,"lineHeight":14,"baseline":"bottom"},
     "data":{"name":"kl"},
     "layer":[
      {"mark":{"type":"point","shape":"square","filled":true,"size":22,"opacity":1},
       "encoding":{"x":{"field":"t","type":"quantitative","title":null,"scale":{"domain":[-10,126],"nice":false,"zero":false},"axis":{"values":[0,15,30,60,90,120],"tickCount":20,"labelExpr":"datum.value + 'min'","labelAngle":-45,"labelOverlap":false}},
        "y":{"field":"mean","type":"quantitative","scale":{"domain":[0,20],"nice":false},"axis":{"title":"glucose (mM)","values":[0,5,10,15,20],"format":"d","tickCount":20,"labelOverlap":false,"labelPadding":1,"titleX":-23,"titleY":41.5}},
        "color":{"field":"grp","type":"nominal","scale":{"domain":["HFD","HFD+MB"],"range":["#1f1fe0","#2c9c2c"]},"legend":{"title":null,"orient":"none","legendX":89,"legendY":1,"padding":0,"symbolType":"M-1,0L1,0M-0.5,-0.5L0.5,-0.5L0.5,0.5L-0.5,0.5Z","symbolSize":100,"symbolStrokeWidth":1.5,"labelFontSize":12,"labelFontWeight":"bold","rowPadding":4,"labelOffset":3}}}},
      {"mark":{"type":"line","strokeWidth":1.5},
       "encoding":{"x":{"field":"t","type":"quantitative","title":null},"y":{"field":"mean","type":"quantitative","title":"glucose (mM)"},"color":{"field":"grp","type":"nominal"}}},
      {"mark":{"type":"errorbar","thickness":1.3,"ticks":{"size":6}},
       "encoding":{"x":{"field":"t","type":"quantitative","title":null},"y":{"field":"mean","type":"quantitative","title":"glucose (mM)"},"yError":{"field":"sem"},"color":{"field":"grp","type":"nominal"}}},
      {"data":{"values":[{"t":0,"mean":11.6,"p":"0.025"},{"t":15,"mean":15.9,"p":"0.012"},{"t":120,"mean":11.3,"p":"<0.001"}]},
       "mark":{"type":"text","fontSize":5.5,"fontWeight":"bold","color":"#555"},
       "encoding":{"x":{"field":"t","type":"quantitative","title":null},"y":{"field":"mean","type":"quantitative","title":"glucose (mM)"},"text":{"field":"p"}}}
     ]},
    {"width":54,"height":83,
     "title":{"text":["","oGTT"],"frame":"group","anchor":"middle","offset":-6.5,"fontSize":12,"lineHeight":14,"baseline":"bottom"},
     "data":{"name":"kauc"},
     "layer":[
      {"mark":{"type":"bar","fill":"white","strokeWidth":1.5,"width":{"band":0.6}},
       "encoding":{"x":{"field":"g","type":"nominal","title":null,"scale":{"domain":["HFD","HFD+MB"],"paddingInner":0,"paddingOuter":0.087,"align":1},"axis":{"labelAngle":-45,"labelOverlap":false}},
        "y":{"aggregate":"mean","field":"v","type":"quantitative","stack":null,"scale":{"domain":[0,1.5],"nice":false},"axis":{"title":"AUC","values":[0,0.5,1,1.5],"tickCount":20,"format":".1f","labelOverlap":false,"titleX":-30,"titleY":41.5}},
        "stroke":{"field":"g","type":"nominal","scale":{"domain":["HFD","HFD+MB"],"range":["#1f1fe0","#2c9c2c"]},"legend":null}}},
      {"mark":{"type":"point","shape":"circle","filled":false,"size":20,"strokeWidth":1.3,"opacity":1},
       "encoding":{"x":{"field":"g","type":"nominal","title":null},"xOffset":{"field":"m","type":"nominal","scale":{"paddingInner":0,"paddingOuter":1.4}},"y":{"field":"v","type":"quantitative","title":"AUC"},"stroke":{"field":"g","type":"nominal","legend":null}}},
      {"mark":{"type":"errorbar","extent":"stderr","thickness":1.5,"ticks":{"size":7}},
       "encoding":{"x":{"field":"g","type":"nominal","title":null},"y":{"field":"v","type":"quantitative","title":"AUC"},"color":{"field":"g","type":"nominal","scale":{"domain":["HFD","HFD+MB"],"range":["#1f1fe0","#2c9c2c"]},"legend":null}}},
      {"data":{"values":[{"g":"HFD","v":1.52},{"g":"HFD+MB","v":1.52}]},"mark":{"type":"line","color":"#000","strokeWidth":1},
       "encoding":{"x":{"field":"g","type":"nominal","title":null},"y":{"field":"v","type":"quantitative","title":"AUC"}}},
      {"data":{"values":[{"g":"HFD","v":1.52,"t":"0.004"}]},"mark":{"type":"text","baseline":"bottom","dy":-1,"fontSize":7,"fontWeight":"bold"},
       "encoding":{"x":{"field":"g","type":"nominal","title":null,"bandPosition":1},"y":{"field":"v","type":"quantitative","title":"AUC"},"text":{"field":"t"}}}
     ]}
   ]}
 ]}
]}
]
}
